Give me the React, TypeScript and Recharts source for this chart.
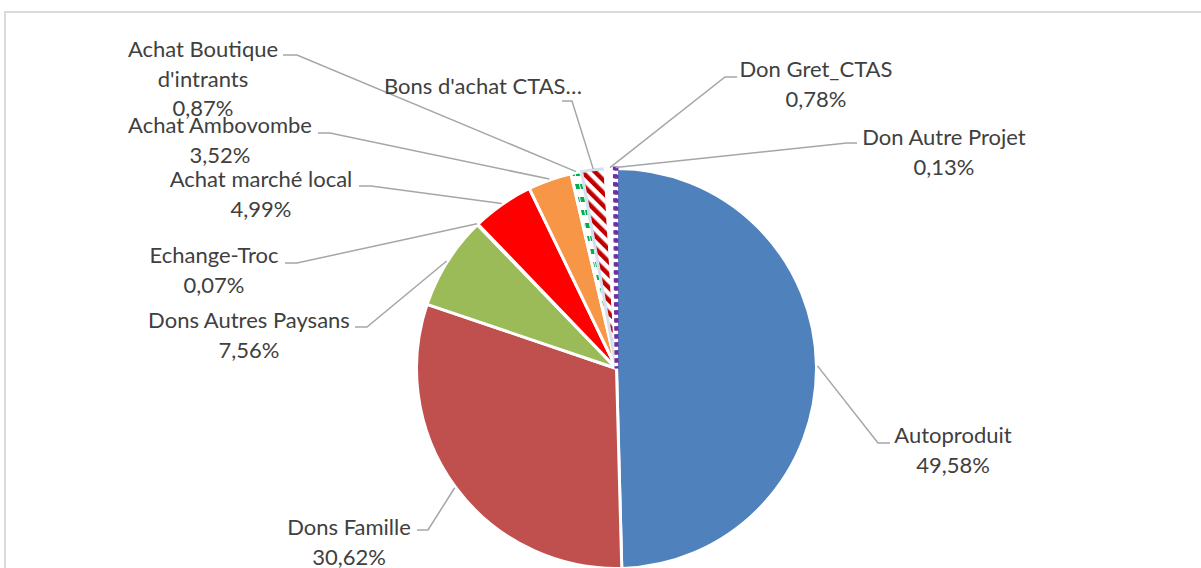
import React from 'react';
import { PieChart, Pie, Cell } from 'recharts';

const categories = [
  'Autoproduit',
  'Dons Famille',
  'Dons Autres Paysans',
  'Echange-Troc',
  'Achat marché local',
  'Achat Ambovombe',
  "Achat Boutique d'intrants",
  "Bons d'achat CTAS…",
  'Don Gret_CTAS',
  'Don Autre Projet',
];
const values = [49.58, 30.62, 7.56, 0.07, 4.99, 3.52, 0.87, 1.88, 0.78, 0.13];
const labelNameLines = [
  ['Autoproduit'],
  ['Dons Famille'],
  ['Dons Autres Paysans'],
  ['Echange-Troc'],
  ['Achat marché local'],
  ['Achat Ambovombe'],
  ['Achat Boutique', "d'intrants"],
  ["Bons d'achat CTAS…"],
  ['Don Gret_CTAS'],
  ['Don Autre Projet'],
];
const showPercent = [true, true, true, true, true, true, true, false, true, true];

const fills = [
  '#4F81BD',
  '#C0504D',
  '#9BBB59',
  '#8064A2',
  '#FF0000',
  '#F79646',
  'url(#greenDots)',
  'url(#redHatch)',
  '#FFFFFF',
  '#FFFFFF',
];
const strokes = ['#fff', '#fff', '#fff', '#fff', '#fff', '#fff', '#fff', '#D5E0EE', '#fff', '#7030A0'];
const strokeDash = [undefined, undefined, undefined, undefined, undefined, undefined, undefined, undefined, undefined, '4 4'];

// label layout relative to pie centre: text centre x, first baseline y, line end, elbow
const labelLayout = [
  { tx: 336.5, ty: 74.5, ex: 273.5, ey: 74.5, bx: 261.5, by: 74.5 },
  { tx: -267.5, ty: 166.5, ex: -199.5, ey: 161.5, bx: -188.5, by: 161.5 },
  { tx: -367.5, ty: -40.5, ex: -261.5, ey: -41.5, bx: -249.5, by: -41.5 },
  { tx: -402.5, ty: -105.5, ex: -331.5, ey: -105.5, bx: -319.5, by: -105.5 },
  { tx: -355.5, ty: -181.5, ex: -257.5, ey: -182.5, bx: -245.5, by: -182.5 },
  { tx: -396.5, ty: -235.5, ex: -298.5, ey: -235.5, bx: -286.5, by: -235.5 },
  { tx: -413.5, ty: -311.5, ex: -333.5, ey: -313.5, bx: -319.5, by: -313.5 },
  { tx: -133.5, ty: -274.5, ex: -54.5, ey: -267.5, bx: -44.5, by: -267.5 },
  { tx: 199.5, ty: -291.5, ex: 120.5, ey: -291.5, bx: 108.5, by: -291.5 },
  { tx: 327.5, ty: -223.5, ex: 240.5, ey: -225.5, bx: 230.5, by: -225.5 },
];

const data = categories.map((name, i) => ({ name, value: values[i] }));

const RAD = Math.PI / 180;
const LINE_H = 29.5;

const renderLabel = (props: any) => {
  const { cx, cy, midAngle, outerRadius, index } = props;
  const l = labelLayout[index];
  const sx = cx + (outerRadius + 1) * Math.cos(-midAngle * RAD);
  const sy = cy + (outerRadius + 1) * Math.sin(-midAngle * RAD);
  const lines = [...labelNameLines[index]];
  if (showPercent[index]) lines.push(values[index].toFixed(2).replace('.', ',') + '%');
  return (
    <g key={'lbl' + index}>
      <polyline
        points={`${sx},${sy} ${cx + l.bx},${cy + l.by} ${cx + l.ex},${cy + l.ey}`}
        fill="none"
        stroke="#A6A6A6"
        strokeWidth={1.5}
      />
      <text
        x={cx + l.tx}
        y={cy + l.ty}
        textAnchor="middle"
        fill="#404040"
        fontFamily="Lato, 'Open Sans', sans-serif"
        fontSize={22}
      >
        {lines.map((t, k) => (
          <tspan key={k} x={cx + l.tx} y={cy + l.ty + k * LINE_H}>
            {t}
          </tspan>
        ))}
      </text>
    </g>
  );
};

export default function App() {
  return (
    <div style={{ position: 'absolute', left: 0, top: 0, width: 1201, height: 568, overflow: 'hidden', background: '#fff' }}>
      <div
        style={{
          position: 'absolute',
          left: 4,
          top: 11,
          width: 1300,
          height: 700,
          borderTop: '2px solid #D9D9D9',
          borderLeft: '2px solid #D9D9D9',
        }}
      />
      <svg width={0} height={0} style={{ position: 'absolute' }}>
        <defs>
          <pattern id="greenDots" patternUnits="userSpaceOnUse" width={5} height={13}>
            <rect x={0} y={0} width={5} height={13} fill="#fff" />
            <path d="M0 2 L4 2 L5 7 L1 7 Z" fill="#00B050" />
          </pattern>
          <pattern id="redHatch" patternUnits="userSpaceOnUse" width={9} height={9} patternTransform="rotate(-45)">
            <rect x={0} y={0} width={9} height={9} fill="#fff" />
            <rect x={0} y={0} width={4.5} height={9} fill="#C00000" />
          </pattern>
        </defs>
      </svg>
      <div style={{ position: 'absolute', left: 0, top: 0 }}>
        <PieChart width={1201} height={568} margin={{ top: 0, right: 0, bottom: 0, left: 0 }}>
          <Pie
            data={data}
            dataKey="value"
            nameKey="name"
            cx={616.5}
            cy={368.5}
            outerRadius={200}
            startAngle={90}
            endAngle={-270}
            isAnimationActive={false}
            label={renderLabel}
            labelLine={false}
          >
            {data.map((d, i) => (
              <Cell
                key={d.name}
                fill={fills[i]}
                stroke={strokes[i]}
                strokeWidth={i === 9 ? 4 : 3}
                strokeDasharray={strokeDash[i]}
              />
            ))}
          </Pie>
        </PieChart>
      </div>
    </div>
  );
}
